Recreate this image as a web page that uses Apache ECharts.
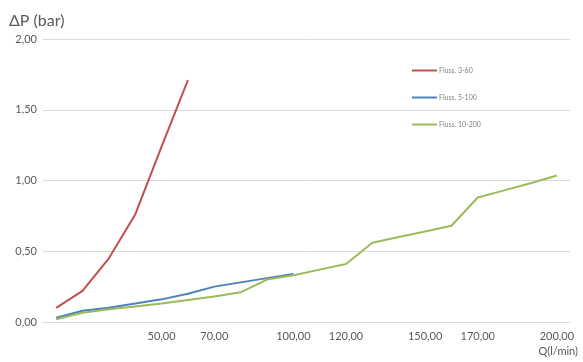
<!DOCTYPE html>
<html><head><meta charset="utf-8">
<script src="https://cdn.jsdelivr.net/npm/echarts@6/dist/echarts.min.js"></script>
<style>html,body{margin:0;padding:0;background:#fff}#c{width:583px;height:362px}</style>
</head><body><div id="c"></div>
<script>
const categories = [10,20,30,40,50,60,70,80,90,100,110,120,130,140,150,160,170,180,190,200];
const shownLabels = [50,70,100,120,150,170,200];
const yTicks = [0,0.5,1,1.5,2];
const seriesNames = ['Fluss. 3-60','Fluss. 5-100','Fluss. 10-200'];
const red = [0.10,0.22,0.45,0.76,1.24,1.71];
const blue = [0.03,0.08,0.10,0.13,0.16,0.20,0.25,0.28,0.31,0.34];
const green = [0.02,0.065,0.09,0.11,0.13,0.155,0.18,0.21,0.30,0.33,0.37,0.41,0.56,0.60,0.64,0.68,0.88,0.93,0.98,1.035];
const colors = ['#C0504D','#4F81BD','#9BBB59'];
const fmt = v => v.toFixed(2).replace('.', ',');
const FONT = 'Lato';
const chart = echarts.init(document.getElementById('c'), null, {renderer:'canvas'});
chart.setOption({
  animation:false,
  backgroundColor:'#fff',
  textStyle:{fontFamily:FONT},
  title:{text:'ΔP (bar)', left:4, top:8, textStyle:{fontFamily:FONT,fontSize:16,fontWeight:'normal',color:'#595959'}},
  grid:{left:43, right:13, top:39, bottom:40},
  legend:{
    orient:'vertical', left:407, top:62, itemGap:20, itemWidth:25, itemHeight:2, icon:'rect',
    textStyle:{fontFamily:FONT,fontSize:7,color:'#808080', padding:[0,0,0,-3]},
    data:seriesNames
  },
  xAxis:{
    type:'category', data:categories, boundaryGap:true,
    name:'Q(l/min)', nameLocation:'end', nameGap:0,
    nameTextStyle:{fontFamily:FONT,fontSize:11,color:'#595959', align:'right', verticalAlign:'top', padding:[24,-8,0,0]},
    axisLine:{lineStyle:{color:'#d9d9d9'}}, axisTick:{show:false},
    axisLabel:{interval:0, margin:9, fontFamily:FONT, fontSize:11, color:'#595959',
      formatter:v => shownLabels.indexOf(Number(v))>=0 ? fmt(Number(v)) : ''}
  },
  yAxis:{
    type:'value', min:yTicks[0], max:yTicks[yTicks.length-1], interval:0.5,
    axisLine:{show:false}, axisTick:{show:false},
    splitLine:{lineStyle:{color:'#d9d9d9',width:1}},
    axisLabel:{margin:6, fontFamily:FONT, fontSize:11, color:'#595959', formatter:v=>fmt(v)}
  },
  series:[
    {name:seriesNames[0], type:'line', data:red, symbol:'none', lineStyle:{width:2,color:colors[0]}, itemStyle:{color:colors[0]}},
    {name:seriesNames[1], type:'line', data:blue, symbol:'none', lineStyle:{width:2,color:colors[1]}, itemStyle:{color:colors[1]}},
    {name:seriesNames[2], type:'line', data:green, symbol:'none', lineStyle:{width:2,color:colors[2]}, itemStyle:{color:colors[2]}}
  ]
});
</script></body></html>
